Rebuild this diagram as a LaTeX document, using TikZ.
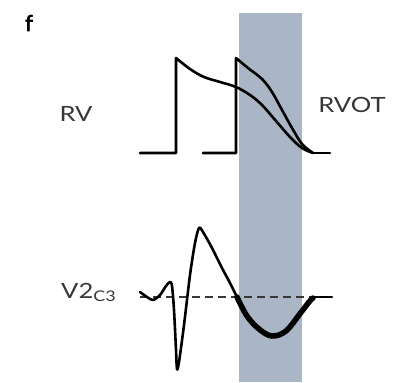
\documentclass[tikz,border=0pt]{standalone}
\usepackage{fontspec}
\setmainfont{Lato}
\newfontfamily\boldf{Lato}[FakeBold=3]
\definecolor{band}{RGB}{170,181,197}
\definecolor{txt}{RGB}{55,55,55}
\tikzset{
  wave/.style={line width=2.6pt, line join=round, line cap=round, black},
  lbl/.style={inner sep=0pt, text=txt, font=\fontsize{21}{21}\selectfont, xscale=1.22, transform shape},
}
\begin{document}
\begin{tikzpicture}[x=1pt,y=-1pt]
\useasboundingbox (0,0) rectangle (395,382);
\fill[white] (0,0) rectangle (395,382);
% band
\fill[band] (239,13) rectangle (302,382);
% panel letter
\node[inner sep=0pt, font=\fontsize{22}{22}\selectfont\boldf] (f) at (29,23) {f};
% labels
\node[lbl] (rv) at (76,114) {RV};
\node[lbl] (rvot) at (352,105) {RVOT};
\node[lbl, anchor=base west] (v2) at (61,298) {V2\textsubscript{C3}};
% RV action potential
\draw[wave] (140,153) -- (176,153) -- (176,58)
  plot[smooth, tension=0.6] coordinates {(176,58) (190,69) (204,77) (220,82) (236,87) (250,95) (262,105) (276,121) (290,137) (302,148) (313,153)};
% RVOT action potential
\draw[wave] (203,153) -- (236,153) -- (236,58)
  plot[smooth, tension=0.6] coordinates {(236,58) (248,68) (262,79) (272,92) (282,110) (292,128) (302,144) (313,153)};
\draw[wave] (313,153) -- (330,153);
% ECG
\draw[dashed, line width=1.3pt, txt, dash pattern=on 8pt off 5pt] (140,297) -- (313,297);
\draw[wave] (313,297) -- (332,297);
\draw[wave] plot[smooth, tension=0.5] coordinates {(140,292) (147,297) (153,300) (160,295) (166,286) (170,282) (172,286) (174,310) (176,350) (177,369) (179,362) (184,325) (190,275) (195,243) (199,228) (203,232) (212,248) (222,268) (230,283) (237,297)};
\draw[line width=5.5pt, line cap=round, black] plot[smooth, tension=0.6] coordinates {(237,297) (247,316) (259,329) (272,336) (286,331) (299,315) (309,302) (313,298)};
\end{tikzpicture}
\end{document}
